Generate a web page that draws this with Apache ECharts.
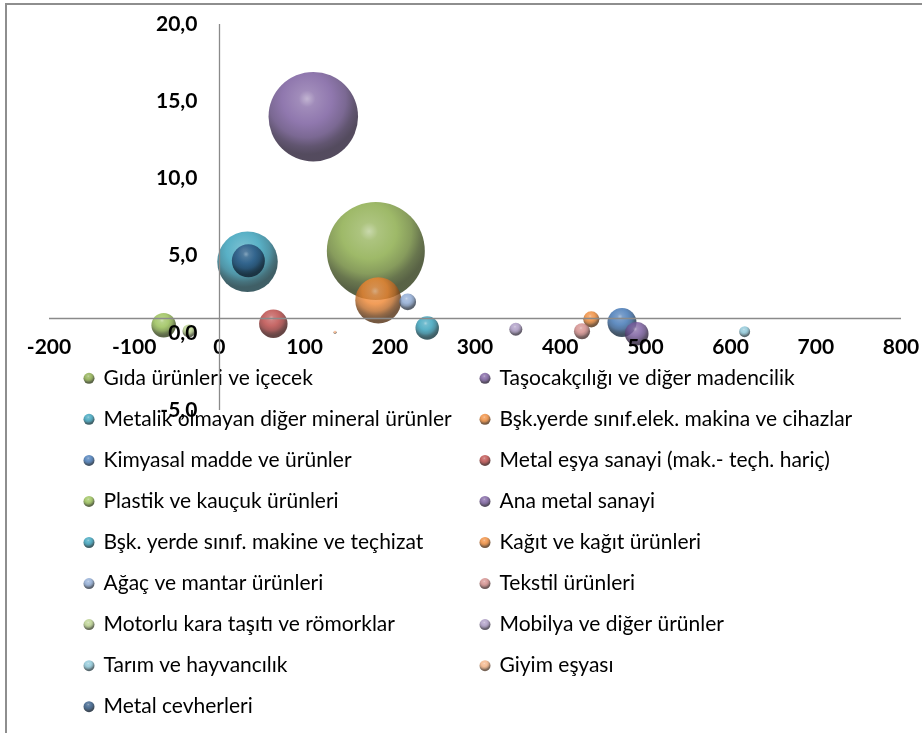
<!DOCTYPE html>
<html>
<head>
<meta charset="utf-8">
<script src="https://cdn.jsdelivr.net/npm/echarts@6/dist/echarts.min.js"></script>
<style>
html,body{margin:0;padding:0;background:#fff;}
#c{width:922px;height:733px;}
</style>
</head>
<body>
<div id="c"></div>
<script>
// ---- data ----
const seriesNames = [
  'Gıda ürünleri ve içecek',
  'Taşocakçılığı ve diğer madencilik',
  'Metalik olmayan diğer mineral ürünler',
  'Bşk.yerde sınıf.elek. makina ve cihazlar',
  'Kimyasal madde ve ürünler',
  'Metal eşya sanayi (mak.- teçh. hariç)',
  'Plastik ve kauçuk ürünleri',
  'Ana metal sanayi',
  'Bşk. yerde sınıf. makine ve teçhizat',
  'Kağıt ve kağıt ürünleri',
  'Ağaç ve mantar ürünleri',
  'Tekstil ürünleri',
  'Motorlu kara taşıtı ve römorklar',
  'Mobilya ve diğer ürünler',
  'Tarım ve hayvancılık',
  'Giyim eşyası',
  'Metal cevherleri'
];
const xValues = [183.6, 110.2, 33.0, 186.5, 472.5, 63.3, -65.4, 489.8, 243.9, 436.5, 221.0, 425.6, -35.7, 347.9, 616.5, 135.7, 34.0];
const yValues = [5.3, 14.0, 4.6, 2.1, 0.67, 0.59, 0.49, -0.06, 0.31, 0.87, 2.0, 0.1, 0.12, 0.23, 0.07, 0.03, 4.66];
const bubbleSizes = [96.0, 80.1, 36.6, 21.2, 8.4, 8.1, 6.0, 5.6, 5.5, 2.6, 2.8, 2.6, 1.7, 1.7, 1.2, 0.09, 10.9];
const xTicks = [-200, -100, 0, 100, 200, 300, 400, 500, 600, 700, 800];
const yTicks = [-5, 0, 5, 10, 15, 20];

// ---- styles ----
const baseColors = ['#86A843','#74569A','#2F9DB8','#EE8530','#3A71B2','#B84240','#94BD4E','#74569A','#2F9DB8','#EE8530','#88A5D1','#D08684','#B6CF88','#A593BF','#86C3D5','#F3AE7E','#27517F'];
const leftLegend = [0,2,4,6,8,10,12,14,16].map(i => seriesNames[i]);
const rightLegend = [1,3,5,7,9,11,13,15].map(i => seriesNames[i]);

function hexToRgb(h){h=h.replace('#','');return [parseInt(h.substr(0,2),16),parseInt(h.substr(2,2),16),parseInt(h.substr(4,2),16)];}
function mix(h, t, a){const c=hexToRgb(h), d=hexToRgb(t);return 'rgb('+c.map((v,i)=>Math.round(v+(d[i]-v)*a)).join(',')+')';}
function sphere(h){
  return {type:'radial', x:0.43, y:0.3, r:0.62, colorStops:[
    {offset:0, color:mix(h,'#ffffff',0.45)},
    {offset:0.15, color:mix(h,'#ffffff',0.15)},
    {offset:0.45, color:h},
    {offset:0.7, color:mix(h,'#000000',0.22)},
    {offset:0.86, color:mix(h,'#000000',0.5)},
    {offset:1, color:mix(h,'#000000',0.65)}
  ]};
}
const maxSize = Math.max(...bubbleSizes);
const MAX_D = 98;
const AXIS_CROSS = 0.96;

const series = seriesNames.map((n,i) => ({
  name:n, type:'scatter', z:2,
  data:[[xValues[i], yValues[i], bubbleSizes[i]]],
  symbolSize: d => MAX_D*Math.sqrt(d[2]/maxSize),
  itemStyle:{color:sphere(baseColors[i])},
  emphasis:{disabled:true}, silent:true
}));
series.unshift({
  name:'axes', type:'scatter', data:[], z:1, silent:true,
  markLine:{silent:true, symbol:'none', animation:false,
    lineStyle:{color:'#8a8a8a', width:1.3, type:'solid'},
    label:{show:false},
    data:[{xAxis:0},{yAxis:AXIS_CROSS}]}
});

const fmt = v => v.toFixed(1).replace('.', ',');
const legendCommon = {
  orient:'vertical', icon:'circle', itemWidth:11, itemHeight:11, itemGap:20.05, padding:0,
  selectedMode:false,
  textStyle:{fontFamily:'Lato', fontSize:21, color:'#000', lineHeight:21, padding:[0,0,0,4]}
};
const hidden = {show:false, onZero:false};
const GRID = {left:49, right:21, top:24, bottom:323};

const chart = echarts.init(document.getElementById('c'));
chart.setOption({
  animation:false,
  backgroundColor:'#fff',
  grid:Object.assign({containLabel:false, outerBoundsMode:'none'}, GRID),
  xAxis:{type:'value', min:xTicks[0], max:xTicks[xTicks.length-1], interval:100,
    position:'bottom', offset:-77.2,
    axisLine:hidden, axisTick:{show:false}, splitLine:{show:false},
    axisLabel:{margin:4, fontFamily:'Lato', fontWeight:'bold', fontSize:21, color:'#000'}, z:3},
  yAxis:{type:'value', min:yTicks[0], max:yTicks[yTicks.length-1], interval:5,
    position:'left', offset:-170.4,
    axisLine:hidden, axisTick:{show:false}, splitLine:{show:false},
    axisLabel:{margin:22, formatter:fmt, fontFamily:'Lato', fontWeight:'bold', fontSize:21, color:'#000'}, z:3},
  legend:[
    Object.assign({left:83.5, top:367.8, data:leftLegend}, legendCommon),
    Object.assign({left:479.5, top:367.8, data:rightLegend}, legendCommon)
  ],
  graphic:[{type:'rect', z:100, silent:true, shape:{x:6,y:4,width:940,height:760}, style:{fill:'none', stroke:'#8e8e8e', lineWidth:2}}],
  series:series
});
</script>
</body>
</html>
